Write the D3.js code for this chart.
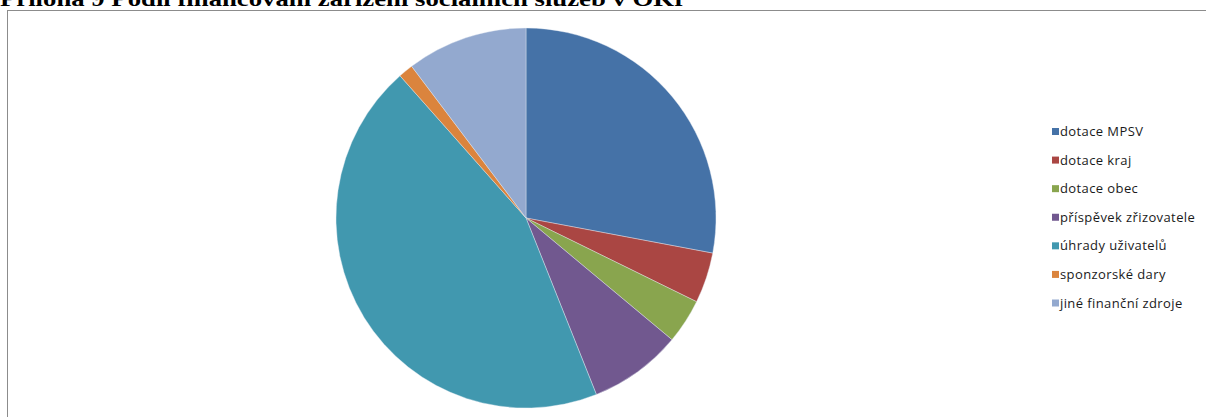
<!DOCTYPE html>
<html>
<head>
<meta charset="utf-8">
<script src="https://cdn.jsdelivr.net/npm/d3@7"></script>
<style>
  body { margin: 0; background: #fff; }
  svg { display: block; }
</style>
</head>
<body>
<div id="vis-container"></div>
<script>
// Chart size
const width = 1206;
const height = 417;

// data (percent)
const categories = ["dotace MPSV", "dotace kraj", "dotace obec", "příspěvek zřizovatele",
                    "úhrady uživatelů", "sponzorské dary", "jiné finanční zdroje"];
const shares = [27.96, 4.3, 3.8, 7.9, 44.5, 1.26, 10.28];
const colors = ["#4572A7", "#AA4643", "#89A54E", "#71588F", "#4198AF", "#DB843D", "#93A9CF"];
const title = "Příloha 9 Podíl financování zařízení sociálních služeb v OKr";

const svg = d3.select("#vis-container")
  .append("svg")
  .attr("width", width)
  .attr("height", height);

// title, cut off at top like the source
svg.append("text")
  .attr("x", 0)
  .attr("y", 6)
  .attr("font-family", "Liberation Serif, Times New Roman, serif")
  .attr("font-weight", "bold")
  .attr("font-size", "21px")
  .attr("fill", "#000")
  .attr("textLength", 686)
  .attr("lengthAdjust", "spacingAndGlyphs")
  .text(title);

// chart frame
svg.append("rect")
  .attr("x", 7.5)
  .attr("y", 10.5)
  .attr("width", 1400)
  .attr("height", 600)
  .attr("fill", "#fff")
  .attr("stroke", "#8c8c8c")
  .attr("stroke-width", 1);

const color = d3.scaleOrdinal().domain(categories).range(colors);

const pie = d3.pie().sort(null).value(d => d.v);
const arc = d3.arc().innerRadius(0).outerRadius(190);
const pieData = pie(categories.map((c, i) => ({name: c, v: shares[i]})));

const g = svg.append("g").attr("transform", "translate(526,218)");
g.selectAll("path")
  .data(pieData)
  .join("path")
  .attr("d", arc)
  .attr("fill", d => color(d.data.name))
  .attr("stroke", "#e8eef5")
  .attr("stroke-width", 0.4);

// legend
const legendY = d3.scalePoint()
  .domain(categories)
  .range([131.5, 303]);

const legend = svg.append("g");
legend.selectAll("rect")
  .data(categories)
  .join("rect")
  .attr("x", 1052)
  .attr("y", d => legendY(d) - 3.5)
  .attr("width", 7)
  .attr("height", 7)
  .attr("fill", d => color(d));

legend.selectAll("text")
  .data(categories)
  .join("text")
  .attr("x", 1060)
  .attr("y", d => legendY(d))
  .attr("dy", "0.35em")
  .attr("font-family", "Open Sans, sans-serif")
  .attr("font-size", "13px")
  .attr("letter-spacing", "0.4px")
  .attr("fill", "#1a1a1a")
  .text(d => d);
</script>
</body>
</html>
